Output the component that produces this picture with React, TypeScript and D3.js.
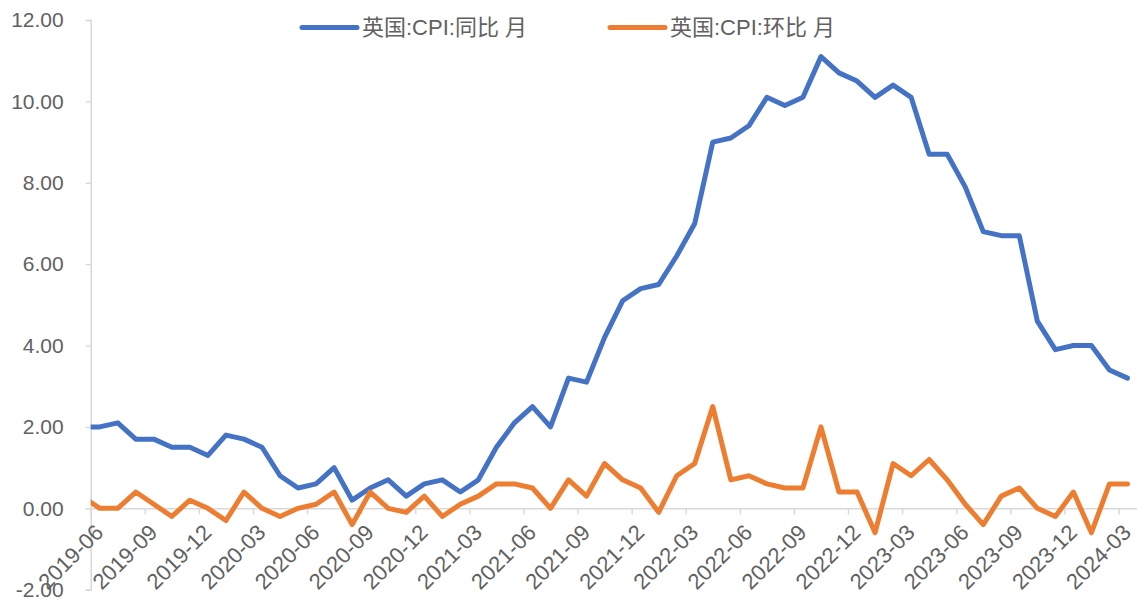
import { useEffect, useRef } from 'react'
import * as d3 from 'd3'

// months from 2019-05 (clipped at the left edge) to 2024-03
const months = [
  '2019-05', '2019-06', '2019-07', '2019-08', '2019-09', '2019-10', '2019-11', '2019-12',
  '2020-01', '2020-02', '2020-03', '2020-04', '2020-05', '2020-06', '2020-07', '2020-08', '2020-09', '2020-10', '2020-11', '2020-12',
  '2021-01', '2021-02', '2021-03', '2021-04', '2021-05', '2021-06', '2021-07', '2021-08', '2021-09', '2021-10', '2021-11', '2021-12',
  '2022-01', '2022-02', '2022-03', '2022-04', '2022-05', '2022-06', '2022-07', '2022-08', '2022-09', '2022-10', '2022-11', '2022-12',
  '2023-01', '2023-02', '2023-03', '2023-04', '2023-05', '2023-06', '2023-07', '2023-08', '2023-09', '2023-10', '2023-11', '2023-12',
  '2024-01', '2024-02', '2024-03',
]

const yoy = [
  2.0, 2.0, 2.1, 1.7, 1.7, 1.5, 1.5, 1.3,
  1.8, 1.7, 1.5, 0.8, 0.5, 0.6, 1.0, 0.2, 0.5, 0.7, 0.3, 0.6,
  0.7, 0.4, 0.7, 1.5, 2.1, 2.5, 2.0, 3.2, 3.1, 4.2, 5.1, 5.4,
  5.5, 6.2, 7.0, 9.0, 9.1, 9.4, 10.1, 9.9, 10.1, 11.1, 10.7, 10.5,
  10.1, 10.4, 10.1, 8.7, 8.7, 7.9, 6.8, 6.7, 6.7, 4.6, 3.9, 4.0,
  4.0, 3.4, 3.2,
]

const mom = [
  0.3, 0.0, 0.0, 0.4, 0.1, -0.2, 0.2, 0.0,
  -0.3, 0.4, 0.0, -0.2, 0.0, 0.1, 0.4, -0.4, 0.4, 0.0, -0.1, 0.3,
  -0.2, 0.1, 0.3, 0.6, 0.6, 0.5, 0.0, 0.7, 0.3, 1.1, 0.7, 0.5,
  -0.1, 0.8, 1.1, 2.5, 0.7, 0.8, 0.6, 0.5, 0.5, 2.0, 0.4, 0.4,
  -0.6, 1.1, 0.8, 1.2, 0.7, 0.1, -0.4, 0.3, 0.5, 0.0, -0.2, 0.4,
  -0.6, 0.6, 0.6,
]

const tickLabels = [
  '2019-06', '2019-09', '2019-12', '2020-03', '2020-06', '2020-09', '2020-12',
  '2021-03', '2021-06', '2021-09', '2021-12', '2022-03', '2022-06', '2022-09', '2022-12',
  '2023-03', '2023-06', '2023-09', '2023-12', '2024-03',
]

const yTicks = [-2, 0, 2, 4, 6, 8, 10, 12]

const seriesNames = ['英国:CPI:同比 月', '英国:CPI:环比 月']
const colors = ['#4472C4', '#ED7D31']

const FONT = '"Liberation Sans", "Noto Sans CJK SC", sans-serif'
const TEXT = '#616161'
const AXIS = '#d9d9d9'

export default function App() {
  const ref = useRef<SVGSVGElement>(null)

  useEffect(() => {
    if (!ref.current) return
    const width = 1137
    const height = 604
    const left = 90.7
    const right = 1136.5

    const svg = d3.select(ref.current)
    svg.selectAll('*').remove()

    // month index relative to first tick (2019-06)
    const idx = (m: string) => months.indexOf(m) - months.indexOf('2019-06')
    const x = d3.scaleLinear().domain([0, 58]).range([left, right])
    const y = d3.scaleLinear().domain([-2, 12]).range([589.7, 20])

    svg.append('defs').append('clipPath').attr('id', 'plot')
      .append('rect').attr('x', left).attr('y', 0).attr('width', right - left).attr('height', height)

    // y axis
    svg.append('g')
      .attr('transform', `translate(${left},0)`)
      .call(d3.axisLeft(y).tickValues(yTicks).tickSize(5).tickPadding(22).tickFormat((d) => (+d).toFixed(2)))
      .call((s) => {
        s.select('.domain').attr('stroke', AXIS).attr('stroke-width', 1.5)
        s.selectAll('.tick line').attr('stroke', AXIS).attr('stroke-width', 1.5)
        s.selectAll('.tick text').attr('fill', TEXT).attr('font-size', '21px').attr('font-family', FONT)
      })

    // x axis at zero
    const xAxis = svg.append('g')
      .attr('transform', `translate(0,${y(0)})`)
      .call(d3.axisBottom(x).tickValues(tickLabels.map(idx)).tickSize(6).tickSizeOuter(0).tickFormat((d) => months[(d as number) + 1]))
    xAxis.select('.domain').attr('stroke', AXIS).attr('stroke-width', 1.5)
    xAxis.selectAll('.tick line').attr('stroke', AXIS).attr('stroke-width', 1.5)
    xAxis.selectAll('.tick text')
      .attr('fill', TEXT).attr('font-size', '22px').attr('font-family', FONT)
      .attr('text-anchor', 'end').attr('x', 0).attr('y', 0).attr('dy', '0.35em')
      .attr('transform', 'translate(8,20) rotate(-45)')

    // lines (points sit mid-month)
    const line = d3.line<number>()
      .x((_, i) => x(i - 1 + 0.5))
      .y((d) => y(d))
    const g = svg.append('g').attr('clip-path', 'url(#plot)')
    ;[yoy, mom].forEach((vals, k) => {
      g.append('path')
        .datum(vals)
        .attr('d', line)
        .attr('fill', 'none')
        .attr('stroke', colors[k])
        .attr('stroke-width', 5)
        .attr('stroke-linejoin', 'round')
        .attr('stroke-linecap', 'round')
    })

    // legend
    const legendX = [302, 610]
    seriesNames.forEach((name, k) => {
      const lg = svg.append('g').attr('transform', `translate(${legendX[k]},27.5)`)
      lg.append('line').attr('x1', 0).attr('x2', 55).attr('y1', 0).attr('y2', 0)
        .attr('stroke', colors[k]).attr('stroke-width', 5).attr('stroke-linecap', 'round')
      lg.append('text').attr('x', 60).attr('y', 0).attr('dy', '0.36em')
        .attr('fill', TEXT).attr('font-size', '22px').attr('font-family', FONT)
        .text(name)
    })

    svg.attr('width', width).attr('height', height)
  }, [])

  return (
    <div>
      <style>{'body{margin:0;background:#fff}'}</style>
      <svg ref={ref} width={1137} height={604} style={{ display: 'block' }} />
    </div>
  )
}
